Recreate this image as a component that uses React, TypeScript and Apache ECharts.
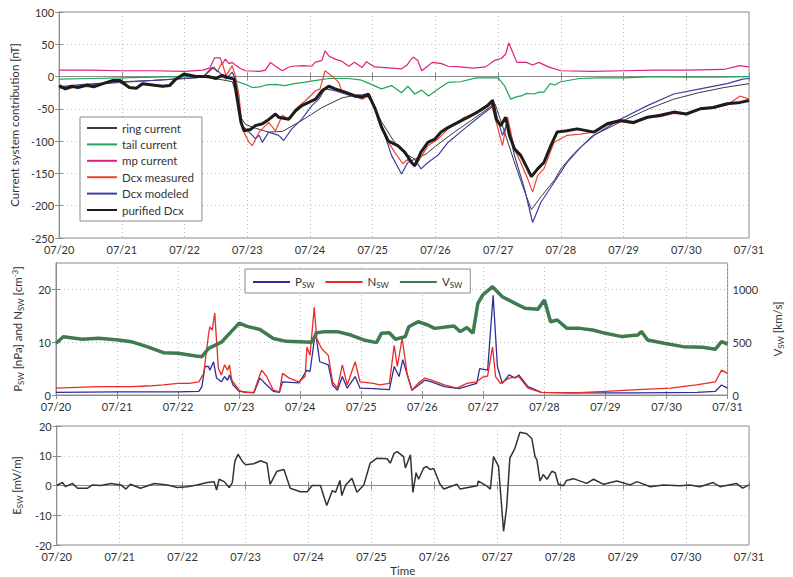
import React, { useEffect, useRef } from 'react';
import * as echarts from 'echarts';

const dayLabels = ['07/20', '07/21', '07/22', '07/23', '07/24', '07/25', '07/26', '07/27', '07/28', '07/29', '07/30', '07/31'];

// Panel 1: current system contributions [nT]; t = days since 07/20 00:00
const ringCurrent = [[0,-18],[0.3,-15],[0.7,-11],[1.0,-9],[1.5,-6],[2.0,-3],[2.3,-1],[2.6,-5],[2.76,-8],[2.84,-30],[2.89,-62],[2.97,-74],[3.13,-80],[3.34,-86],[3.56,-85],[3.87,-68],[4.19,-48],[4.51,-33],[4.77,-28],[4.93,-30],[5.14,-70],[5.35,-102],[5.5,-118],[5.67,-128],[5.85,-120],[6.0,-108],[6.3,-86],[6.6,-66],[6.9,-45],[6.95,-42],[7.02,-62],[7.1,-85],[7.25,-130],[7.4,-172],[7.53,-206],[7.7,-184],[7.9,-160],[8.0,-143],[8.2,-120],[8.5,-92],[9.0,-68],[9.4,-50],[9.8,-35],[10.2,-25],[10.6,-17],[11,-11]];
const tailCurrent = [[0,-4],[0.5,-3],[1.0,-2],[1.5,-1],[2.0,0],[2.5,-1],[2.75,-2],[2.85,-8],[2.97,-12],[3.08,-17],[3.2,-16],[3.3,-13],[3.45,-12],[3.6,-14],[3.75,-11],[3.9,-9],[4.1,-6],[4.3,-3],[4.6,-3],[4.8,-5],[4.95,-11],[5.14,-19],[5.3,-14],[5.46,-25],[5.56,-15],[5.67,-27],[5.78,-21],[5.89,-30],[6.05,-19],[6.2,-9],[6.4,-8],[6.65,-2],[7.0,-2],[7.1,-14],[7.2,-35],[7.3,-31],[7.37,-30],[7.45,-26],[7.57,-27],[7.65,-24],[7.73,-24],[7.83,-11],[7.9,-13],[8.0,-8],[8.3,-3],[8.6,-2],[9.0,-2],[9.5,0],[10,-1],[10.5,-1],[11,0]];
const mpCurrent = [[0,10],[0.5,10],[1.0,9],[1.5,9],[2.0,8],[2.29,10],[2.4,13],[2.48,29],[2.57,29],[2.6,19],[2.65,27],[2.71,20],[2.76,22],[2.81,18],[2.9,12],[2.97,9],[3.2,8],[3.29,10],[3.37,22],[3.45,16],[3.56,9],[3.65,14],[3.71,16],[3.9,17],[4.03,16],[4.08,22],[4.19,25],[4.24,40],[4.3,32],[4.4,27],[4.5,24],[4.62,16],[4.71,22],[4.83,14],[4.9,23],[5.03,15],[5.2,14],[5.46,12],[5.55,18],[5.6,25],[5.65,30],[5.72,25],[5.78,9],[5.85,14],[5.95,22],[6.1,20],[6.2,16],[6.4,15],[6.6,13],[6.8,15],[6.94,25],[7.05,28],[7.12,35],[7.17,52],[7.23,38],[7.3,22],[7.45,22],[7.55,18],[7.65,22],[7.8,15],[8.0,9],[8.5,8],[9.0,9],[9.5,10],[10,10],[10.6,11],[10.85,17],[11,15]];
const dcxMeasured = [[0,-15],[0.15,-19],[0.3,-15],[0.5,-16],[0.7,-11],[0.9,-6],[1.12,-17],[1.23,-18],[1.33,-11],[1.49,-13],[1.65,-15],[1.76,-14],[1.86,-4],[1.99,4],[2.18,0],[2.29,-1],[2.44,12],[2.47,15],[2.52,7],[2.6,22],[2.66,1],[2.76,17],[2.81,1],[2.87,-30],[2.92,-81],[3.03,-102],[3.08,-107],[3.19,-86],[3.29,-76],[3.34,-71],[3.45,-84],[3.56,-60],[3.66,-66],[3.77,-50],[3.93,-37],[4.09,-22],[4.16,-19],[4.24,9],[4.35,1],[4.46,-9],[4.51,-24],[4.61,-27],[4.72,-30],[4.83,-35],[4.93,-30],[5.04,-50],[5.14,-81],[5.25,-102],[5.35,-117],[5.48,-135],[5.56,-128],[5.67,-140],[5.77,-125],[5.88,-107],[6.04,-97],[6.2,-81],[6.46,-63],[6.73,-53],[6.89,-42],[6.94,-60],[7.07,-107],[7.15,-63],[7.26,-112],[7.36,-133],[7.47,-158],[7.55,-179],[7.63,-153],[7.73,-143],[7.89,-102],[8.1,-91],[8.31,-89],[8.53,-86],[8.74,-75],[8.95,-70],[9.16,-73],[9.38,-64],[9.59,-62],[9.8,-57],[10.0,-58],[10.22,-51],[10.43,-49],[10.65,-44],[10.86,-30],[11,-35]];
const dcxModeled = [[0,-16],[0.3,-13],[0.7,-10],[1.0,-8],[1.5,-6],[2.0,-3],[2.29,-1],[2.44,14],[2.55,7],[2.66,-4],[2.76,7],[2.81,-4],[2.92,-76],[3.03,-86],[3.13,-96],[3.19,-91],[3.24,-102],[3.34,-86],[3.5,-91],[3.58,-99],[3.71,-81],[3.87,-66],[4.03,-45],[4.14,-35],[4.24,-19],[4.4,-22],[4.56,-27],[4.72,-32],[4.88,-27],[4.98,-37],[5.14,-76],[5.3,-122],[5.46,-151],[5.56,-133],[5.67,-128],[5.77,-143],[5.88,-133],[6.04,-122],[6.2,-102],[6.46,-81],[6.73,-60],[6.89,-48],[6.92,-35],[6.99,-66],[7.07,-91],[7.15,-71],[7.26,-122],[7.42,-174],[7.55,-226],[7.68,-195],[7.89,-164],[8.1,-133],[8.31,-110],[8.53,-91],[8.95,-66],[9.38,-45],[9.8,-27],[10.22,-19],[10.65,-11],[10.9,-4],[11,-3]];
const purifiedDcx = [[0,-14],[0.1,-19],[0.2,-15],[0.3,-17],[0.45,-13],[0.55,-16],[0.7,-11],[0.86,-6],[0.97,-6],[1.12,-17],[1.23,-18],[1.33,-11],[1.49,-13],[1.65,-15],[1.76,-14],[1.86,-4],[1.99,4],[2.18,0],[2.39,0],[2.5,-3],[2.6,2],[2.71,-2],[2.79,-4],[2.84,-35],[2.9,-71],[2.95,-84],[3.05,-82],[3.13,-76],[3.24,-73],[3.35,-66],[3.45,-58],[3.5,-63],[3.66,-66],[3.77,-53],[3.87,-45],[4.09,-35],[4.19,-22],[4.3,-15],[4.4,-19],[4.56,-24],[4.72,-30],[4.83,-32],[4.93,-27],[5.04,-50],[5.14,-78],[5.25,-100],[5.4,-107],[5.51,-117],[5.62,-133],[5.67,-138],[5.72,-128],[5.77,-117],[5.88,-102],[5.99,-97],[6.09,-86],[6.2,-79],[6.36,-71],[6.52,-63],[6.67,-55],[6.83,-45],[6.91,-37],[6.97,-66],[7.04,-76],[7.12,-63],[7.18,-91],[7.26,-112],[7.36,-122],[7.47,-143],[7.53,-155],[7.63,-143],[7.73,-133],[7.84,-107],[7.94,-86],[8.1,-84],[8.26,-81],[8.53,-86],[8.74,-73],[8.95,-68],[9.16,-71],[9.38,-63],[9.59,-60],[9.8,-55],[10.0,-58],[10.22,-50],[10.43,-48],[10.65,-42],[10.86,-40],[11,-37]];

// Panel 2: solar wind
const pSW = [[0,0.5],[1.0,0.6],[2.0,0.6],[2.34,0.7],[2.39,1.6],[2.44,5.4],[2.5,5.4],[2.52,4.7],[2.58,6.3],[2.63,3.2],[2.71,2.5],[2.76,3.5],[2.81,2.8],[2.84,3.8],[2.9,1.9],[3.0,0.7],[3.24,0.4],[3.34,3.2],[3.45,1.9],[3.56,0.7],[3.66,0.5],[3.71,2.5],[3.98,2.3],[4.11,4.7],[4.16,4.4],[4.25,12],[4.32,6.3],[4.46,5.7],[4.53,1.9],[4.61,0.9],[4.69,3.5],[4.77,1.3],[4.9,3.5],[4.98,1.3],[5.2,1.2],[5.46,1.0],[5.54,5.4],[5.62,3.5],[5.68,6.7],[5.78,2.8],[5.83,0.9],[6.04,2.8],[6.15,2.5],[6.36,1.6],[6.6,1.2],[6.89,2.2],[6.94,5.0],[7.07,4.7],[7.16,18.9],[7.23,5.4],[7.31,2.2],[7.42,3.8],[7.52,3.2],[7.58,3.8],[7.73,1.6],[7.95,0.5],[8.47,0.4],[9.5,0.4],[10.5,0.5],[10.8,0.7],[10.9,1.9],[11,1.3]];
const nSW = [[0,1.3],[0.7,1.6],[1.23,1.6],[1.5,1.7],[1.76,1.9],[2.0,2.2],[2.18,2.2],[2.34,2.5],[2.42,4.1],[2.46,7.9],[2.5,11.6],[2.52,12.9],[2.56,12.3],[2.6,15.5],[2.66,5.0],[2.71,3.8],[2.76,5.7],[2.81,4.7],[2.84,5.7],[2.88,2.8],[3.0,0.9],[3.08,0.5],[3.24,0.5],[3.32,3.2],[3.37,4.7],[3.45,3.5],[3.56,0.9],[3.66,0.6],[3.71,4.1],[3.82,3.2],[3.98,2.5],[4.08,3.5],[4.11,9.1],[4.16,7.5],[4.23,16.6],[4.27,10.7],[4.35,8.8],[4.46,7.5],[4.53,2.5],[4.61,1.3],[4.69,5.7],[4.77,1.9],[4.9,6.3],[4.98,2.5],[5.2,2.2],[5.3,1.9],[5.46,2.2],[5.54,9.4],[5.59,5.4],[5.67,10.7],[5.75,4.1],[5.83,0.9],[5.93,2.2],[6.04,3.2],[6.15,2.8],[6.36,1.9],[6.57,1.3],[6.73,2.2],[6.89,2.5],[6.99,3.4],[7.07,3.6],[7.15,9.1],[7.2,3.5],[7.28,2.2],[7.42,3.2],[7.58,3.5],[7.73,1.3],[7.95,0.5],[8.47,0.4],[9.0,0.7],[9.53,1.0],[10.06,1.3],[10.49,1.9],[10.8,2.5],[10.9,4.7],[11,4.1]];
const vSW = [[0,490],[0.12,552],[0.43,527],[0.7,537],[1.02,521],[1.23,505],[1.49,458],[1.76,401],[2.0,395],[2.29,370],[2.39,363],[2.5,442],[2.71,500],[2.87,600],[3.0,680],[3.13,650],[3.34,620],[3.56,535],[3.77,508],[3.98,505],[4.19,499],[4.27,590],[4.4,600],[4.61,600],[4.83,568],[5.04,521],[5.25,496],[5.33,584],[5.46,590],[5.56,528],[5.72,553],[5.78,647],[5.93,694],[6.09,663],[6.2,631],[6.52,653],[6.62,600],[6.73,640],[6.83,584],[6.91,868],[6.99,947],[7.15,1026],[7.31,931],[7.52,868],[7.68,821],[7.89,811],[8.0,900],[8.1,694],[8.21,710],[8.37,631],[8.58,631],[8.79,616],[9.0,584],[9.27,553],[9.53,568],[9.59,600],[9.69,521],[9.96,490],[10.27,458],[10.59,452],[10.8,433],[10.9,505],[11,483]];

// Panel 3: solar wind electric field
const eSW = [[0,0],[0.09,1],[0.14,-0.4],[0.25,0.7],[0.33,-0.9],[0.49,-0.9],[0.57,0.2],[0.7,0],[0.86,0.7],[1.02,0.2],[1.1,-1.2],[1.17,0.4],[1.33,-0.9],[1.55,0.7],[1.76,0.2],[1.92,-0.7],[2.07,-0.4],[2.23,0.2],[2.39,1],[2.5,1.3],[2.54,-1.5],[2.58,2.1],[2.66,1.3],[2.74,-0.7],[2.79,1],[2.83,8.1],[2.88,10.5],[2.95,8.1],[3.0,7.0],[3.13,7.3],[3.24,8.3],[3.34,7.5],[3.39,0.4],[3.5,4.8],[3.61,5.4],[3.71,-0.9],[3.87,-2.1],[3.98,-2.1],[4.06,0],[4.19,0],[4.29,-6.7],[4.38,-1.7],[4.43,-2.3],[4.5,1.7],[4.53,-3.4],[4.59,0.2],[4.69,2.4],[4.77,-2.3],[4.88,0.2],[4.98,7.5],[5.09,9.2],[5.25,9],[5.3,7.5],[5.36,10.8],[5.41,11.4],[5.51,9.7],[5.54,5.9],[5.62,10.3],[5.66,-2.3],[5.71,4.3],[5.75,2.1],[5.83,5.9],[5.88,6.4],[5.93,5.4],[5.99,5.7],[6.09,0.4],[6.15,-1.2],[6.36,0.4],[6.41,-1.2],[6.68,-0.1],[6.7,1.5],[6.83,-0.1],[6.89,-1.2],[6.94,9.7],[7.02,6.4],[7.1,-15.4],[7.15,-7.2],[7.2,9.2],[7.28,12.5],[7.36,17.9],[7.47,17.4],[7.55,15.7],[7.6,9.7],[7.63,8.6],[7.68,1.5],[7.73,3.7],[7.79,2.1],[7.87,4.8],[7.92,4.3],[7.97,0.4],[8.05,-0.1],[8.1,1.7],[8.21,2.3],[8.42,0.7],[8.53,2.1],[8.69,0.4],[8.9,1.5],[9.11,0.2],[9.22,1.3],[9.43,-0.4],[9.64,0.2],[9.9,-0.1],[10.06,0.2],[10.22,-0.4],[10.43,1],[10.54,-0.4],[10.8,0.7],[10.9,-0.9],[11,0.2]];

const FONT = 'Lato, "DejaVu Sans", sans-serif';
const AXIS = '#8c8c8c';
const TXT = '#333';
const FS = 11;

const rich = {
  n: { fontSize: 11.5, color: TXT, fontFamily: FONT, lineHeight: 14, verticalAlign: 'top' },
  s: { fontSize: 8, color: TXT, fontFamily: FONT, lineHeight: 8, verticalAlign: 'bottom', padding: [8, 0, 0, 0] },
  p: { fontSize: 8, color: TXT, fontFamily: FONT, lineHeight: 8, verticalAlign: 'top', padding: [0, 0, 8, 0] },
};

function xAxisBottom(gi: number, extra: any = {}) {
  return {
    type: 'value', gridIndex: gi, min: 0, max: 11, interval: 1,
    axisLine: { show: true, lineStyle: { color: AXIS } },
    axisTick: { show: true, inside: true, length: 4, lineStyle: { color: AXIS } },
    axisLabel: { formatter: (v: number) => dayLabels[v], color: TXT, fontSize: FS, lineHeight: 11, fontFamily: FONT, margin: 6 },
    splitLine: { show: true, lineStyle: { type: [1, 3], color: '#bdbdbd' } },
    ...extra,
  };
}
function xAxisTop(gi: number) {
  return {
    type: 'value', gridIndex: gi, min: 0, max: 11, interval: 1, position: 'top',
    axisLine: { show: true, lineStyle: { color: AXIS } },
    axisTick: { show: true, inside: true, length: 4, lineStyle: { color: AXIS } },
    axisLabel: { show: false }, splitLine: { show: false },
  };
}
function yAxisLeft(gi: number, min: number, max: number, interval: number, extra: any = {}) {
  return {
    type: 'value', gridIndex: gi, min, max, interval, position: 'left',
    axisLine: { show: true, lineStyle: { color: AXIS } },
    axisTick: { show: true, inside: true, length: 4, lineStyle: { color: AXIS } },
    axisLabel: { color: TXT, fontSize: FS, lineHeight: 11, fontFamily: FONT, margin: 5 },
    splitLine: { show: true, lineStyle: { type: [1, 3], color: '#bdbdbd' } },
    nameLocation: 'middle', nameRotate: 90,
    nameTextStyle: { fontSize: 11.5, color: TXT, fontFamily: FONT, rich },
    ...extra,
  };
}
function yAxisRight(gi: number, min: number, max: number, interval: number, extra: any = {}) {
  return {
    type: 'value', gridIndex: gi, min, max, interval, position: 'right',
    axisLine: { show: true, lineStyle: { color: AXIS } },
    axisTick: { show: true, inside: true, length: 4, lineStyle: { color: AXIS } },
    axisLabel: { show: false }, splitLine: { show: false },
    ...extra,
  };
}

function line(name: string, data: number[][], color: string, width: number, xi: number, yi: number) {
  return {
    type: 'line', name, data, xAxisIndex: xi, yAxisIndex: yi,
    symbol: 'none', showSymbol: false, lineStyle: { color, width }, itemStyle: { color, opacity: 0 },
    emphasis: { disabled: true },
  };
}

const subName: Record<string, string> = {
  P_SW: '{n|P}{s|SW}',
  N_SW: '{n|N}{s|SW}',
  V_SW: '{n|V}{s|SW}',
};

export default function App() {
  const ref = useRef<HTMLDivElement>(null);
  useEffect(() => {
    document.body.style.margin = '0';
    const chart = echarts.init(ref.current!, null, { renderer: 'svg' });
    chart.setOption({
      animation: false,
      backgroundColor: '#fff',
      grid: [
        { left: 56, right: 44, top: 12, height: 226, show: true, borderColor: AXIS, borderWidth: 1 },
        { left: 56, right: 44, top: 263, height: 132, show: true, borderColor: AXIS, borderWidth: 1 },
        { left: 56, right: 44, top: 426, height: 122, show: true, borderColor: AXIS, borderWidth: 1 },
      ],
      xAxis: [
        xAxisBottom(0), xAxisTop(0),
        xAxisBottom(1), xAxisTop(1),
        xAxisBottom(2, { name: 'Time', nameLocation: 'middle', nameGap: 19, nameTextStyle: { fontSize: 11.5, color: TXT, fontFamily: FONT } }), xAxisTop(2),
      ],
      yAxis: [
        yAxisLeft(0, -250, 100, 50, { name: 'Current system contribution [nT]', nameGap: 36 }),
        yAxisRight(0, -250, 100, 50),
        yAxisLeft(1, 0, 25, 10, {
          name: '{n|P}{s|SW}{n| [nPa] and N}{s|SW}{n| [cm}{p|-3}{n|]}', nameGap: 28,
          axisLabel: { color: TXT, fontSize: FS, lineHeight: 11, fontFamily: FONT, margin: 5, showMaxLabel: false },
        }),
        yAxisRight(1, 0, 1250, 500, {
          axisLabel: { show: true, color: TXT, fontSize: FS, lineHeight: 11, fontFamily: FONT, margin: 5, showMaxLabel: false, formatter: (v: number) => String(v) },
          name: '{n|V}{s|SW}{n| [km/s]}', nameLocation: 'middle', nameRotate: 90, nameGap: 40,
          nameTextStyle: { fontSize: 11.5, color: TXT, fontFamily: FONT, rich },
        }),
        yAxisLeft(2, -20, 20, 10, { name: '{n|E}{s|SW}{n| [mV/m]}', nameGap: 28 }),
        yAxisRight(2, -20, 20, 10),
      ],
      legend: [
        {
          orient: 'vertical', left: 80, top: 117,
          data: ['ring current', 'tail current', 'mp current', 'Dcx measured', 'Dcx modeled', 'purified Dcx'],
          itemWidth: 30, itemHeight: 12, itemGap: 4.4,
          borderColor: AXIS, borderWidth: 1, backgroundColor: '#fff', padding: [5, 8, 5, 6],
          itemStyle: { opacity: 0 },
          textStyle: { fontSize: 11.5, color: TXT, fontFamily: FONT },
          selectedMode: false,
        },
        {
          orient: 'horizontal', left: 245, top: 269,
          data: ['P_SW', 'N_SW', 'V_SW'],
          itemWidth: 37, itemHeight: 12, itemGap: 10,
          borderColor: AXIS, borderWidth: 1, backgroundColor: '#fff', padding: [4, 8, 4, 7],
          itemStyle: { opacity: 0 },
          formatter: (n: string) => subName[n],
          textStyle: { fontSize: 11.5, color: TXT, fontFamily: FONT, rich },
          selectedMode: false,
        },
      ],
      series: [
        line('ring current', ringCurrent, '#3a3a3a', 1, 0, 0),
        line('tail current', tailCurrent, '#1fa55a', 1.2, 0, 0),
        line('mp current', mpCurrent, '#e0207f', 1.2, 0, 0),
        line('Dcx measured', dcxMeasured, '#f0442e', 1.2, 0, 0),
        line('Dcx modeled', dcxModeled, '#3f3f9f', 1.2, 0, 0),
        line('purified Dcx', purifiedDcx, '#1c1c1c', 3, 0, 0),
        line('P_SW', pSW, '#2e2e96', 1.3, 2, 2),
        line('N_SW', nSW, '#e82b25', 1.3, 2, 2),
        line('V_SW', vSW, '#3f7b4e', 3.5, 2, 3),
        line('E_SW', eSW, '#333333', 1.5, 4, 4),
      ],
    });
    return () => chart.dispose();
  }, []);
  return <div ref={ref} style={{ width: 793, height: 577 }} />;
}
